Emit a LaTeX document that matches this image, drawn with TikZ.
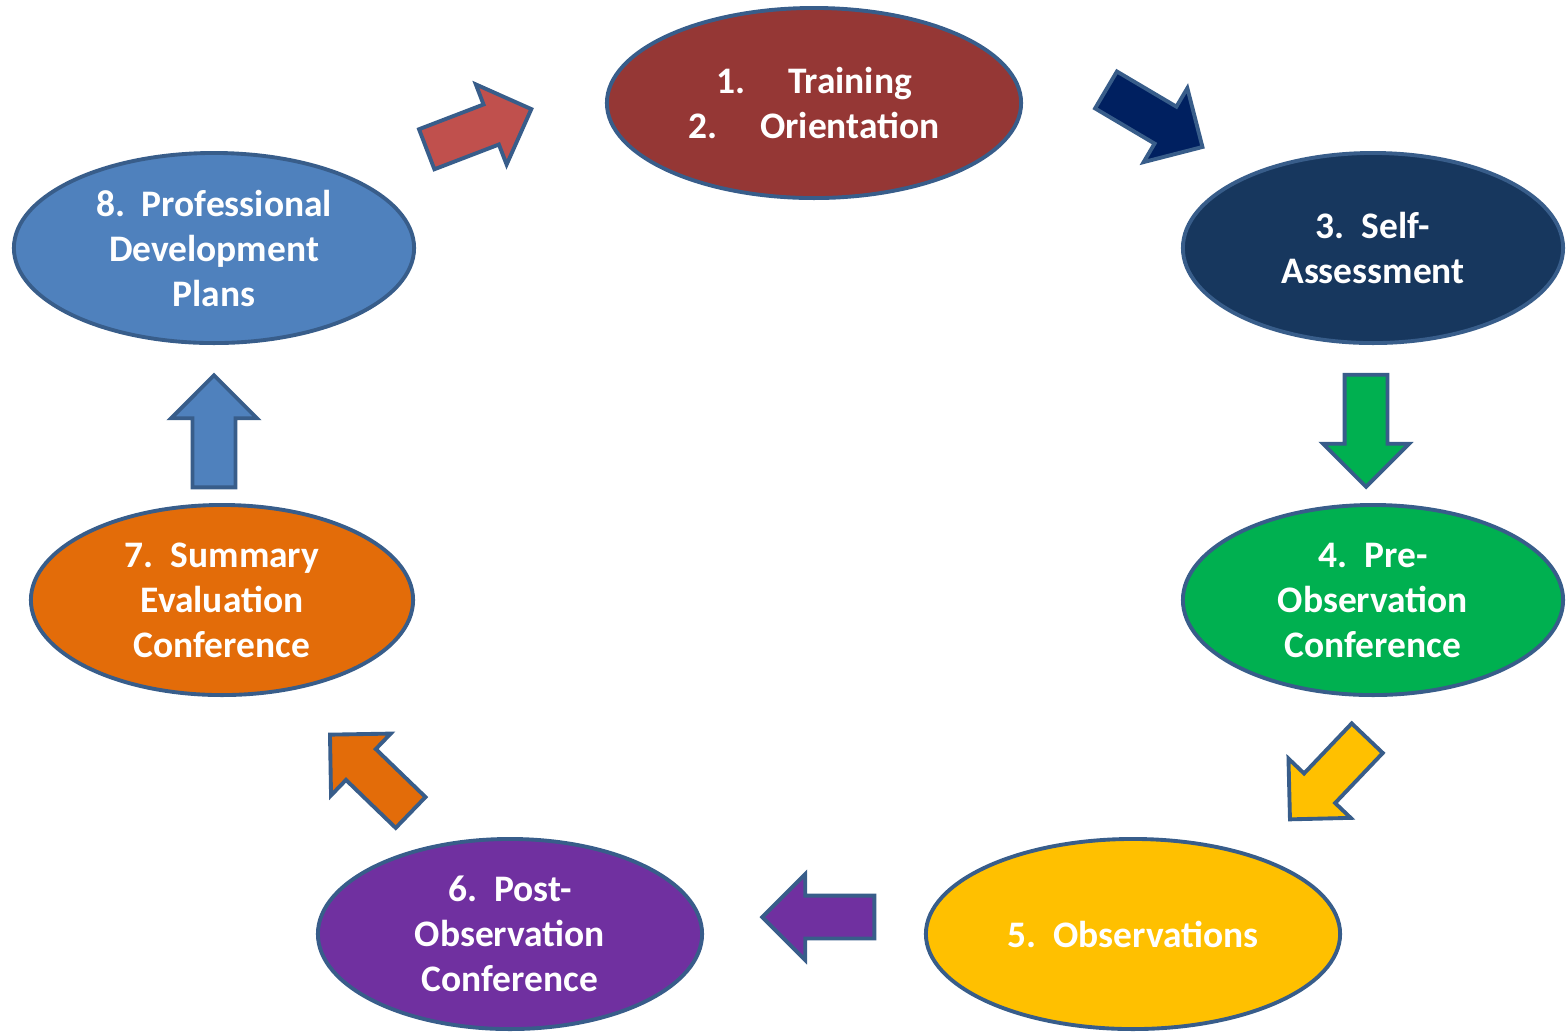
\documentclass[tikz,border=0pt]{standalone}
\usepackage{fontspec}
\setmainfont{Carlito}
\usepackage{tikz}
\usetikzlibrary{shapes.geometric,shapes.arrows,positioning}

\definecolor{rimblue}{HTML}{385D8A}
\definecolor{trainred}{HTML}{953735}
\definecolor{arrowred}{HTML}{C0504D}
\definecolor{selfnavy}{HTML}{17375E}
\definecolor{arrownavy}{HTML}{002060}
\definecolor{pregreen}{HTML}{00B050}
\definecolor{obsyellow}{HTML}{FFC000}
\definecolor{postpurple}{HTML}{7030A0}
\definecolor{summorange}{HTML}{E36C09}
\definecolor{profblue}{HTML}{4F81BD}

\begin{document}
\begin{tikzpicture}[
    x=0.01cm, y=-0.01cm,
    stage/.style={ellipse, draw=rimblue, line width=1.1pt, inner sep=0pt,
        minimum height=1.9cm, text=white, align=center,
        font=\fontsize{10.65}{12.8}\selectfont\bfseries},
    flow/.style={single arrow, draw=rimblue, line width=1.1pt, inner sep=0pt,
        text height=0.195cm, text depth=0.195cm, single arrow head extend=0.215cm,
        minimum height=1.12cm}
]
    \useasboundingbox (0,0) rectangle (1566,1032);

    \node[stage, fill=trainred, minimum width=4.14cm] (train) at (814,103)
        {1.\hspace{0.43cm}Training\\2.\hspace{0.43cm}Orientation};
    \node[stage, fill=selfnavy, minimum width=3.8cm] (self) at (1373,248)
        {3.\ \ Self-\\Assessment};
    \node[stage, fill=pregreen, minimum width=3.8cm] (pre) at (1373,600)
        {4.\ \ Pre-\\Observation\\Conference};
    \node[stage, fill=obsyellow, minimum width=4.14cm] (obs) at (1133,934)
        {5.\ \ Observations};
    \node[stage, fill=postpurple, minimum width=3.84cm] (post) at (510,934)
        {6.\ \ Post-\\Observation\\Conference};
    \node[stage, fill=summorange, minimum width=3.82cm] (summ) at (222,600)
        {7.\ \ Summary\\Evaluation\\Conference};
    \node[stage, fill=profblue, minimum width=4cm] (prof) at (214,248)
        {8.\ \ Professional\\Development\\Plans};

    % block arrows between the stages
    \node[flow, fill=arrowred, rotate=21] (proftrain) at (469,133) {};
    \node[flow, fill=arrownavy, rotate=-30.6] (trainself) at (1145,113) {};
    \node[flow, fill=pregreen, rotate=-90] (selfpre) at (1366,420) {};
    \node[flow, fill=obsyellow, rotate=-133.6] (preobs) at (1336,771) {};
    \node[flow, fill=postpurple, rotate=180] (obspost) at (829,917) {};
    \node[flow, fill=summorange, rotate=136] (postsumm) at (378,781) {};
    \node[flow, fill=profblue, rotate=90] (summprof) at (214,442) {};
\end{tikzpicture}
\end{document}
